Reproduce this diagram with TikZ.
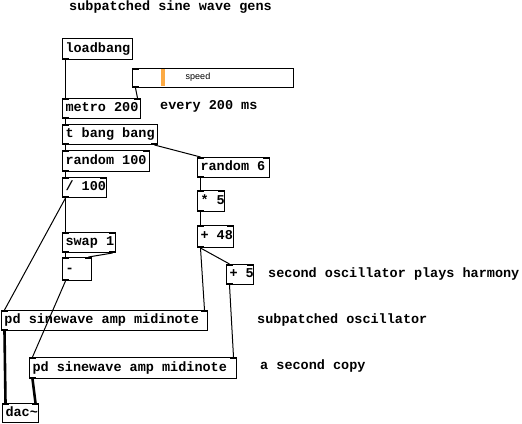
\documentclass[tikz,border=0pt]{standalone}
\usepackage{fontspec}
\newfontfamily\pdmono{Liberation Mono}
\newfontfamily\pdsans{Liberation Sans}
\newcommand\pdfnt{\pdmono\bfseries\fontsize{13.5}{15}\selectfont}
\newcommand\pdt[2]{\makebox[#1][l]{#2}}
\definecolor{sliderorange}{RGB}{252,170,68}
\newcommand\pdio[3]{%
  \ifnum#2>0 \fill (#1.north west) rectangle ++(7,2);\fi
  \ifnum#2>1 \fill (#1.north east) rectangle ++(-7,2);\fi
  \ifnum#3>0 \fill (#1.south west) rectangle ++(7,-2);\fi
  \ifnum#3>1 \fill (#1.south east) rectangle ++(-7,-2);\fi}
\begin{document}
\begin{tikzpicture}[x=1pt,y=-1pt,
  obj/.style={draw, line width=1pt, anchor=north west, inner xsep=3pt, inner ysep=0pt,
    font=\pdfnt, text height=9.5pt, text depth=3pt, minimum height=21pt},
  comment/.style={anchor=base west, inner sep=0pt, font=\pdfnt},
  msg/.style={line width=1pt},
  sig/.style={line width=2.6pt}]
\useasboundingbox[fill=white] (0,0) rectangle (522,423);

% comments
\node[comment] (title) at (69,10) {subpatched sine wave gens};
\node[comment] (every) at (160,109) {every 200 ms};
\node[comment] (harm) at (268,277) {second oscillator plays harmony};
\node[comment] (subosc) at (257,323) {subpatched oscillator};
\node[comment] (copy) at (260,369) {a second copy};

% objects
\node[obj] (loadbang) at (62,38) {\pdt{64pt}{loadbang}};
\node[draw, line width=1pt, anchor=north west, minimum width=161pt, minimum height=19pt, inner sep=0pt] (slider) at (132,68) {};
\fill[sliderorange] (161,69) rectangle (165,86);
\node[font=\pdsans\fontsize{9}{10}\selectfont, inner sep=0pt] (speed) at (198,77) {speed};
\node[obj, minimum height=20pt] (metro) at (62,98) {\pdt{72pt}{metro 200}};
\node[obj, minimum height=20pt] (tbb) at (62,124) {\pdt{89pt}{t bang bang}};
\node[obj] (r100) at (62,150) {\pdt{81pt}{random 100}};
\node[obj, minimum height=20pt] (div) at (62,177) {\pdt{38pt}{/ 100}};
\node[obj, minimum height=20pt] (r6) at (197,157) {\pdt{66pt}{random 6}};
\node[obj] (mul) at (197,190) {\pdt{21pt}{* 5}};
\node[obj, minimum height=22pt] (add48) at (197,225) {\pdt{30pt}{+ 48}};
\node[obj, minimum height=20pt] (add5) at (226,264) {\pdt{21pt}{+ 5}};
\node[obj, minimum height=20pt] (swap) at (62,232) {\pdt{47pt}{swap 1}};
\node[obj, minimum height=23pt] (minus) at (62,257) {\pdt{23pt}{-}};
\node[obj, minimum height=20pt] (pdA) at (1,310) {\pdt{200pt}{pd sinewave amp midinote}};
\node[obj] (pdB) at (29,357) {\pdt{201pt}{pd sinewave amp midinote}};
\node[obj, minimum height=19pt] (dac) at (2,403) {\pdt{30pt}{dac\char`\~}};

% inlets / outlets
\pdio{loadbang}{0}{1}
\pdio{slider}{1}{1}
\pdio{metro}{2}{1}
\pdio{tbb}{1}{2}
\pdio{r100}{2}{1}
\pdio{div}{2}{1}
\pdio{r6}{2}{1}
\pdio{mul}{2}{1}
\pdio{add48}{2}{1}
\pdio{add5}{2}{1}
\pdio{swap}{2}{2}
\pdio{minus}{2}{1}
\pdio{pdA}{2}{1}
\pdio{pdB}{2}{1}
\pdio{dac}{2}{0}

% message connections
\draw[msg] ([xshift=3.5pt]loadbang.south west) -- ([xshift=3.5pt]metro.north west);
\draw[msg] ([xshift=3.5pt]slider.south west) -- ([xshift=-3.5pt]metro.north east);
\draw[msg] ([xshift=3.5pt]metro.south west) -- ([xshift=3.5pt]tbb.north west);
\draw[msg] ([xshift=3.5pt]tbb.south west) -- ([xshift=3.5pt]r100.north west);
\draw[msg] ([xshift=-3.5pt]tbb.south east) -- ([xshift=3.5pt]r6.north west);
\draw[msg] ([xshift=3.5pt]r100.south west) -- ([xshift=3.5pt]div.north west);
\draw[msg] ([xshift=3.5pt]div.south west) -- ([xshift=3.5pt]swap.north west);
\draw[msg] ([xshift=3.5pt]div.south west) -- ([xshift=3.5pt]pdA.north west);
\draw[msg] ([xshift=3.5pt]swap.south west) -- ([xshift=3.5pt]minus.north west);
\draw[msg] ([xshift=-3.5pt]swap.south east) -- ([xshift=-3.5pt]minus.north east);
\draw[msg] ([xshift=3.5pt]minus.south west) -- ([xshift=3.5pt]pdB.north west);
\draw[msg] ([xshift=3.5pt]r6.south west) -- ([xshift=3.5pt]mul.north west);
\draw[msg] ([xshift=3.5pt]mul.south west) -- ([xshift=3.5pt]add48.north west);
\draw[msg] ([xshift=3.5pt]add48.south west) -- ([xshift=-3.5pt]pdA.north east);
\draw[msg] ([xshift=3.5pt]add48.south west) -- ([xshift=3.5pt]add5.north west);
\draw[msg] ([xshift=3.5pt]add5.south west) -- ([xshift=-3.5pt]pdB.north east);

% signal connections
\draw[sig] ([xshift=3.5pt]pdA.south west) -- ([xshift=3.5pt]dac.north west);
\draw[sig] ([xshift=3.5pt]pdB.south west) -- ([xshift=-3.5pt]dac.north east);
\end{tikzpicture}
\end{document}
